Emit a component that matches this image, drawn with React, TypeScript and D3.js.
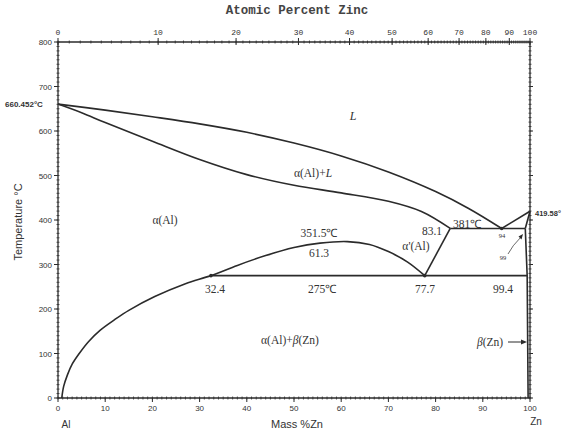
import React from "react";
import * as d3 from "d3";

const W = 566, H = 432;
const massTicks = [0, 10, 20, 30, 40, 50, 60, 70, 80, 90, 100];
const tempTicks = [0, 100, 200, 300, 400, 500, 600, 700, 800];
const atomicTicks = [0, 10, 20, 30, 40, 50, 60, 70, 80, 90, 100];

// [mass % Zn, temperature °C]
const liquidusAl: [number, number][] = [[0, 660.452], [10, 647], [20, 632], [30, 616], [40, 597], [50, 573], [60, 544], [70, 508], [80, 464], [87, 426], [94, 381]];
const solidusAl: [number, number][] = [[0, 660.452], [5, 641], [10, 619], [20, 577], [30, 536], [40, 502], [50, 478], [60, 461], [70, 442], [77, 419], [83.1, 381]];
const solvusDome: [number, number][] = [[0.8, 0], [1.2, 26], [2, 52], [3, 76], [4.5, 100], [6.5, 127], [8.9, 152], [12, 176], [15, 197], [20.5, 228], [27, 257], [32.4, 275], [38, 298], [44, 320], [50, 338], [55.5, 348], [61.3, 351.5], [66, 345], [70, 329], [74, 306], [77.7, 275]];
const alphaPrime: [number, number][] = [[77.7, 275], [83.1, 381]];
const eutectic: [number, number][] = [[83.1, 381], [99, 381]];
const monotectoid: [number, number][] = [[32.4, 275], [99.4, 275]];
const liquidusZn: [number, number][] = [[94, 381], [100, 419.58]];
const solidusZn: [number, number][] = [[99, 381], [100, 419.58]];
const solvusZn: [number, number][] = [[99, 381], [99.4, 275], [99.6, 0]];

const x = d3.scaleLinear().domain([0, 100]).range([58, 530]);
const y = d3.scaleLinear().domain([0, 800]).range([398, 42]);

const atToMass = (a: number) => (100 * a * 65.38) / (a * 65.38 + (100 - a) * 26.98);

const INK = "#2b2b2b";
const TXT = "#333";

export default function App() {
  const lineGen = d3.line<[number, number]>().x(d => x(d[0])).y(d => y(d[1]));
  const curveGen = d3.line<[number, number]>().x(d => x(d[0])).y(d => y(d[1])).curve(d3.curveCatmullRom.alpha(0.5));
  const minorMass = d3.range(0, 101, 1);
  const minorTemp = d3.range(0, 801, 10);
  const minorAt = d3.range(0, 101, 1);
  const serif = "'Liberation Serif', 'Times New Roman', serif";
  const sans = "'Liberation Sans', Arial, sans-serif";
  const mono = "'Liberation Mono', 'DejaVu Sans Mono', monospace";

  return (
    <svg width={W} height={H} style={{ position: "absolute", left: 0, top: 0, background: "#fff" }}>
      {/* frame */}
      <g stroke={INK} strokeWidth={1.3} fill="none">
        <line x1={x(0)} x2={x(100)} y1={y(800)} y2={y(800)} />
        <line x1={x(0)} x2={x(100)} y1={y(0)} y2={y(0)} />
        <line x1={x(0)} x2={x(0)} y1={y(0)} y2={y(800)} />
        <line x1={x(100)} x2={x(100)} y1={y(0)} y2={y(800)} />
      </g>
      {/* minor ticks */}
      <g stroke={INK} strokeWidth={0.8}>
        {minorMass.map(m => (
          <line key={"bm" + m} x1={x(m)} x2={x(m)} y1={y(0) - 1.5} y2={y(0) + 1.5} />
        ))}
        {minorAt.map(a => (
          <line key={"tm" + a} x1={x(atToMass(a))} x2={x(atToMass(a))} y1={y(800) - 1.5} y2={y(800) + 1.5} />
        ))}
        {minorTemp.map(t => (
          <line key={"lm" + t} x1={x(0) - 1.5} x2={x(0) + 1.5} y1={y(t)} y2={y(t)} />
        ))}
        {minorTemp.map(t => (
          <line key={"rm" + t} x1={x(100) - 1.5} x2={x(100) + 1.5} y1={y(t)} y2={y(t)} />
        ))}
      </g>
      {/* major ticks */}
      <g stroke={INK} strokeWidth={1}>
        {massTicks.map(m => (
          <line key={"bM" + m} x1={x(m)} x2={x(m)} y1={y(0)} y2={y(0) + 4} />
        ))}
        {atomicTicks.map(a => (
          <line key={"tM" + a} x1={x(atToMass(a))} x2={x(atToMass(a))} y1={y(800) - 4} y2={y(800) + 3} />
        ))}
        {tempTicks.map(t => (
          <line key={"lM" + t} x1={x(0) - 4} x2={x(0)} y1={y(t)} y2={y(t)} />
        ))}
        {tempTicks.map(t => (
          <line key={"rM" + t} x1={x(100)} x2={x(100) + 3} y1={y(t)} y2={y(t)} />
        ))}
      </g>
      {/* tick labels */}
      <g fill={TXT} fontFamily={sans} fontSize={8}>
        {massTicks.map(m => (
          <text key={"bl" + m} x={x(m)} y={y(0) + 13} textAnchor="middle">{m}</text>
        ))}
        {tempTicks.map(t => (
          <text key={"ll" + t} x={x(0) - 6} y={y(t) + 3} textAnchor="end">{t}</text>
        ))}
      </g>
      <g fill={TXT} fontFamily={mono} fontSize={8}>
        {atomicTicks.map(a => (
          <text key={"tl" + a} x={x(atToMass(a))} y={y(800) - 7} textAnchor="middle">{a}</text>
        ))}
      </g>
      <text x={297} y={14} textAnchor="middle" fontFamily={mono} fontWeight="bold" fontSize={12.5} fill="#444">Atomic Percent Zinc</text>
      <text x={297} y={428} textAnchor="middle" fontFamily={sans} fontSize={11} fill={TXT}>Mass %Zn</text>
      <text transform="translate(22,222) rotate(-90)" textAnchor="middle" fontFamily={sans} fontSize={11} fill={TXT}>Temperature °C</text>
      <text x={66} y={428} textAnchor="middle" fontFamily={sans} fontSize={10} fill={TXT}>Al</text>
      <text x={536} y={425} textAnchor="middle" fontFamily={sans} fontSize={10} fill={TXT}>Zn</text>

      {/* phase boundaries */}
      <g stroke={INK} strokeWidth={1.6} fill="none">
        <path d={curveGen(liquidusAl) || ""} />
        <path d={curveGen(solidusAl) || ""} />
        <path d={curveGen(solvusDome) || ""} />
        <path d={lineGen(alphaPrime) || ""} />
        <path d={lineGen(eutectic) || ""} />
        <path d={lineGen(monotectoid) || ""} />
        <path d={lineGen(liquidusZn) || ""} />
        <path d={lineGen(solidusZn) || ""} />
        <path d={lineGen(solvusZn) || ""} />
      </g>
      {/* points */}
      <g fill={INK}>
        <circle cx={x(32.4)} cy={y(275)} r={1.8} />
        <circle cx={x(77.7)} cy={y(275)} r={1.8} />
        <circle cx={x(94)} cy={y(381)} r={1.8} />
      </g>

      {/* labels */}
      <g fontFamily={serif} fill={TXT} fontSize={11.5}>
        <text x={353} y={120} textAnchor="middle" fontStyle="italic" fontSize={12}>L</text>
        <text x={313} y={177} textAnchor="middle">α(Al)+<tspan fontStyle="italic">L</tspan></text>
        <text x={165} y={224} textAnchor="middle">α(Al)</text>
        <text x={319} y={237} textAnchor="middle">351.5℃</text>
        <text x={319} y={257} textAnchor="middle">61.3</text>
        <text x={432} y={235} textAnchor="middle">83.1</text>
        <text x={467} y={228} textAnchor="middle">381℃</text>
        <text x={416} y={250} textAnchor="middle">α'(Al)</text>
        <text x={215} y={293} textAnchor="middle">32.4</text>
        <text x={322} y={293} textAnchor="middle">275℃</text>
        <text x={425} y={293} textAnchor="middle">77.7</text>
        <text x={503} y={293} textAnchor="middle">99.4</text>
        <text x={290} y={344} textAnchor="middle">α(Al)+<tspan fontStyle="italic">β</tspan>(Zn)</text>
        <text x={490} y={346} textAnchor="middle"><tspan fontStyle="italic">β</tspan>(Zn)</text>
        <text x={502} y={238} textAnchor="middle" fontSize={6.5}>94</text>
        <text x={503} y={260} textAnchor="middle" fontSize={6.5}>99</text>
      </g>
      {/* arrow to Zn */}
      <g stroke={INK} strokeWidth={1} fill={INK}>
        <line x1={508} x2={524} y1={342} y2={342} />
        <path d="M527,342 L521,339.5 L521,344.5 Z" stroke="none" />
        <path d="M508,254 Q512,246 521,237" fill="none" strokeWidth={0.7} />
        <path d="M523,234 L518.5,236.5 L521.5,239.5 Z" stroke="none" />
      </g>
      <text x={5} y={107} fontFamily={sans} fontWeight="bold" fontSize={8} fill={TXT}>660.452°C</text>
      <text x={535} y={216} fontFamily={sans} fontWeight="bold" fontSize={7.5} fill={TXT}>419.58°</text>
    </svg>
  );
}
